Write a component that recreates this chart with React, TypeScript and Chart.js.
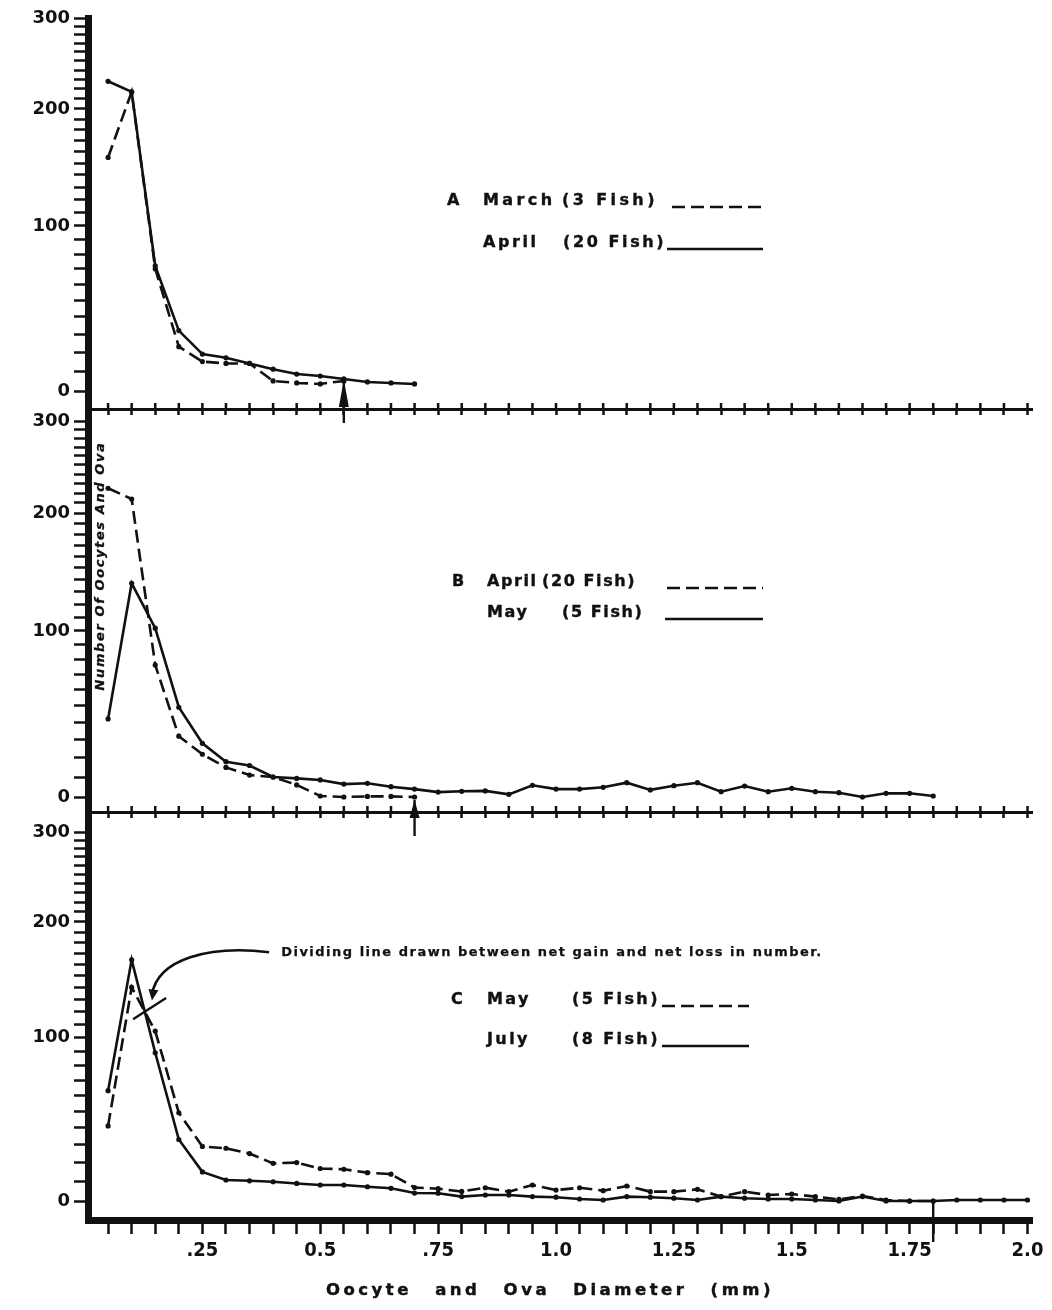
import React, { useEffect, useRef } from 'react';
import { Chart, LinearScale, registerables } from 'chart.js';

Chart.register(...registerables);

// ---------------- data ----------------
const DIAMETERS = [0.05, 0.10, 0.15, 0.20, 0.25, 0.30, 0.35, 0.40, 0.45, 0.50, 0.55, 0.60, 0.65, 0.70, 0.75, 0.80, 0.85, 0.90, 0.95, 1.00, 1.05, 1.10, 1.15, 1.20, 1.25, 1.30, 1.35, 1.40, 1.45, 1.50, 1.55, 1.60, 1.65, 1.70, 1.75, 1.80, 1.85, 1.90, 1.95, 2.00];

const MARCH_A = [155, 217, 70, 23, 15, 14, 14, 5, 4, 3.5, 5];
const APRIL_A = [228, 217, 72, 32, 19, 17, 14, 11, 8.5, 7.5, 6, 4.5, 4, 3.5];

const APRIL_B = [225, 214, 76, 32, 22, 15, 11, 10, 6, 0.5, 0, 0.3, 0.3, 0];
const MAY_B = [42, 137, 102, 49, 28, 18, 16, 10, 9.3, 8.5, 6.4, 6.8, 5.1, 3.9, 2.4, 2.8, 3, 1.3, 5.8, 3.9, 3.9, 4.8, 7.1, 3.5, 5.6, 7.1, 2.6, 5.4, 2.6, 4.3, 2.6, 2.1, 0, 1.8, 1.8, 0.5];

const MAY_C = [41, 140, 105, 49, 29, 28, 25, 19.6, 20, 16.8, 16.4, 14.6, 13.8, 6.8, 6.2, 4.8, 6.7, 4.7, 8.1, 5.5, 6.7, 5.2, 7.6, 4.7, 4.7, 5.9, 2.2, 4.7, 3, 3.5, 2.2, 0.8, 2.5, 0.5, 0, 0];
const JULY_C = [63, 164, 89, 33, 15, 10.7, 10.3, 9.8, 8.9, 8.1, 8.1, 7.2, 6.4, 4, 3.9, 2.2, 3, 3, 2.2, 1.9, 1, 0.5, 2.2, 1.9, 1.4, 0.5, 2.2, 1.4, 1, 1, 0.5, 0, 2.2, 0, 0, 0, 0.5, 0.5, 0.5, 0.5];

const Y_TICKS = [0, 10, 20, 30, 40, 50, 60, 70, 80, 90, 100, 110, 120, 130, 140, 150, 160, 170, 180, 190, 200, 210, 220, 230, 240, 250, 260, 270, 280, 290, 300];
const Y_TICK_LABELS = [0, 100, 200, 300];

const X_LABEL_VALUES = [0.25, 0.5, 0.75, 1.0, 1.25, 1.5, 1.75, 2.0];
const X_LABEL_TEXT = ['.25', '0.5', '.75', '1.0', '1.25', '1.5', '1.75', '2.0'];

const PANEL_LETTERS = ['A', 'B', 'C'];
const MONTHS_A = ['March', 'April'];
const FISH_A = ['(3 Fish)', '(20 Fish)'];
const MONTHS_B = ['April', 'May'];
const FISH_B = ['(20 Fish)', '(5 Fish)'];
const MONTHS_C = ['May', 'July'];
const FISH_C = ['(5 Fish)', '(8 Fish)'];

const DIVIDERS = [0.55, 0.70, 1.80];

const Y_TITLE = 'Number Of Oocytes And Ova';
const X_TITLE = 'Oocyte and Ova Diameter (mm)';
const NOTE_TEXT = 'Dividing line drawn between net gain and net loss in number.';
const NOTE_ANCHOR = { x: 0.417, y: 171 };
const NOTE_ARROW_TIP = { x: 0.143, y: 129 };
const DIVIDING_LINE = [{ x: 0.103, y: 114 }, { x: 0.173, y: 131 }];

// ---------------- layout ----------------
const W = 1052;
const H = 1310;
const INK = '#111111';
const X_MIN = 0.0074;
const X_MAX = 2.0095;
const AXIS_LEFT = 88;
const AXIS_RIGHT = 1032;
const LOG_OFFSET = 200;
const FONT = '"DejaVu Sans", "Open Sans", sans-serif';
const NARROW = '"Liberation Sans Narrow", "DejaVu Sans Condensed", "DejaVu Sans", sans-serif';

class PanelLogScale extends LinearScale {
  static id = 'panelLog';
  frac(value: number) {
    const top = Y_TICKS[Y_TICKS.length - 1];
    const t = (v: number) => Math.log(Math.max(v, 0) + LOG_OFFSET);
    return (t(value) - t(0)) / (t(top) - t(0));
  }
  bounds() {
    const o: any = this.options;
    const y0 = this.bottom - (o.padBottom || 0);
    const y1 = this.top + (o.padTop || 0);
    return [y0, y1];
  }
  getPixelForValue(value: any) {
    if (value === null || value === undefined || isNaN(value)) return NaN;
    const [y0, y1] = this.bounds();
    return y0 - this.frac(value) * (y0 - y1);
  }
  getValueForPixel(pixel: number) {
    const [y0, y1] = this.bounds();
    const f = (y0 - pixel) / (y0 - y1);
    const top = Y_TICKS[Y_TICKS.length - 1];
    const t0 = Math.log(LOG_OFFSET);
    const t1 = Math.log(top + LOG_OFFSET);
    return Math.exp(t0 + f * (t1 - t0)) - LOG_OFFSET;
  }
}
Chart.register(PanelLogScale as any);

type SeriesDef = { month: string; fish: string; values: number[]; dashed: boolean };
type PanelDef = {
  letter: string;
  top: number;
  bottom: number;
  padTop: number;
  padBottom: number;
  xHeight: number;
  bottomAxis: boolean;
  series: SeriesDef[];
  legend: { letterX: number; monthX: number; fishX: number[]; lineX1: number[]; lineX2: number; rowY: number[]; spacing: number[] };
  divider: number;
  arrow: { tip: number; base: number; below: number; head: boolean };
  extra?: (chart: any, ctx: CanvasRenderingContext2D) => void;
};

const DASH = [13, 6];

function heavyText(ctx: CanvasRenderingContext2D, text: string, x: number, y: number, w = 0.4) {
  ctx.lineWidth = w;
  ctx.strokeText(text, x, y);
  ctx.fillText(text, x, y);
}

function drawYTitle(chart: any, ctx: CanvasRenderingContext2D) {
  const a = chart.chartArea;
  ctx.save();
  ctx.fillStyle = INK;
  ctx.strokeStyle = INK;
  ctx.translate(a.left + 13, a.top + 157);
  ctx.rotate(-Math.PI / 2);
  ctx.font = `italic bold 13px ${FONT}`;
  (ctx as any).letterSpacing = '1.6px';
  ctx.textAlign = 'center';
  ctx.textBaseline = 'middle';
  heavyText(ctx, Y_TITLE, 0, 0, 0.3);
  ctx.restore();
}

function drawNotes(chart: any, ctx: CanvasRenderingContext2D) {
  const xs = chart.scales.x;
  const ys = chart.scales.y;
  const a = chart.chartArea;
  ctx.save();
  ctx.fillStyle = INK;
  ctx.strokeStyle = INK;
  // annotation text
  const tx = xs.getPixelForValue(NOTE_ANCHOR.x);
  const ty = ys.getPixelForValue(NOTE_ANCHOR.y);
  ctx.font = `bold 13px ${FONT}`;
  (ctx as any).letterSpacing = '1.5px';
  ctx.textAlign = 'left';
  ctx.textBaseline = 'middle';
  heavyText(ctx, NOTE_TEXT, tx, ty, 0.25);
  // curved arrow
  const sx = tx - 12;
  const sy = ty;
  const ex = xs.getPixelForValue(NOTE_ARROW_TIP.x);
  const ey = ys.getPixelForValue(NOTE_ARROW_TIP.y);
  const c1x = sx - 60, c1y = sy - 7;
  const c2x = ex + 6, c2y = ey - 42;
  ctx.lineWidth = 2.6;
  ctx.beginPath();
  ctx.moveTo(sx, sy);
  ctx.bezierCurveTo(c1x, c1y, c2x, c2y, ex, ey - 6);
  ctx.stroke();
  const ang = Math.atan2(ey - c2y, ex - c2x);
  ctx.beginPath();
  ctx.moveTo(ex, ey);
  ctx.lineTo(ex - 11 * Math.cos(ang) + 5 * Math.sin(ang), ey - 11 * Math.sin(ang) - 5 * Math.cos(ang));
  ctx.lineTo(ex - 11 * Math.cos(ang) - 5 * Math.sin(ang), ey - 11 * Math.sin(ang) + 5 * Math.cos(ang));
  ctx.closePath();
  ctx.fill();
  // dividing line
  ctx.lineWidth = 2.4;
  ctx.beginPath();
  ctx.moveTo(xs.getPixelForValue(DIVIDING_LINE[0].x), ys.getPixelForValue(DIVIDING_LINE[0].y));
  ctx.lineTo(xs.getPixelForValue(DIVIDING_LINE[1].x), ys.getPixelForValue(DIVIDING_LINE[1].y));
  ctx.stroke();
  // x-axis title
  ctx.font = `bold 16.5px ${FONT}`;
  (ctx as any).letterSpacing = '3.5px';
  (ctx as any).wordSpacing = '14px';
  ctx.textAlign = 'center';
  heavyText(ctx, X_TITLE, a.left + 462, a.bottom + 71, 0.45);
  ctx.restore();
}

const PANELS: PanelDef[] = [
  {
    letter: PANEL_LETTERS[0], top: 18, bottom: 409, padTop: 0, padBottom: 18, xHeight: 8, bottomAxis: false,
    series: [
      { month: MONTHS_A[0], fish: FISH_A[0], values: MARCH_A, dashed: true },
      { month: MONTHS_A[1], fish: FISH_A[1], values: APRIL_A, dashed: false },
    ],
    legend: { letterX: 447, monthX: 483, fishX: [562, 563], lineX1: [672, 667], lineX2: 763, rowY: [201, 243], spacing: [3.4, 2.6] },
    divider: DIVIDERS[0],
    arrow: { tip: 29, base: 2, below: 14, head: true },
  },
  {
    letter: PANEL_LETTERS[1], top: 409, bottom: 812, padTop: 12.7, padBottom: 15, xHeight: 8, bottomAxis: false,
    series: [
      { month: MONTHS_B[0], fish: FISH_B[0], values: APRIL_B, dashed: true },
      { month: MONTHS_B[1], fish: FISH_B[1], values: MAY_B, dashed: false },
    ],
    legend: { letterX: 452, monthX: 487, fishX: [542, 562], lineX1: [667, 665], lineX2: 763, rowY: [582, 613], spacing: [1.6, 1.6] },
    divider: DIVIDERS[1],
    arrow: { tip: 12, base: -6, below: 24, head: true },
    extra: drawYTitle,
  },
  {
    letter: PANEL_LETTERS[2], top: 812, bottom: 1220, padTop: 20, padBottom: 19, xHeight: 62, bottomAxis: true,
    series: [
      { month: MONTHS_C[0], fish: FISH_C[0], values: MAY_C, dashed: true },
      { month: MONTHS_C[1], fish: FISH_C[1], values: JULY_C, dashed: false },
    ],
    legend: { letterX: 451, monthX: 487, fishX: [572, 572], lineX1: [662, 662], lineX2: 749, rowY: [1000, 1040], spacing: [2.4, 2.4] },
    divider: DIVIDERS[2],
    arrow: { tip: 17, base: 17, below: 22, head: false },
    extra: drawNotes,
  },
];

function makeDecor(panel: PanelDef) {
  return {
    id: 'decor' + panel.letter,
    afterDraw(chart: any) {
      const ctx: CanvasRenderingContext2D = chart.ctx;
      const xs = chart.scales.x;
      const axisY = chart.chartArea.bottom;
      ctx.save();
      ctx.strokeStyle = INK;
      ctx.fillStyle = INK;
      // upper half of cross ticks
      if (!panel.bottomAxis) {
        ctx.lineWidth = 2.5;
        ctx.beginPath();
        xs.ticks.forEach((t: any) => {
          const px = xs.getPixelForValue(t.value);
          ctx.moveTo(px, axisY - 6);
          ctx.lineTo(px, axisY);
        });
        ctx.stroke();
      }
      // legend
      const L = panel.legend;
      ctx.font = `bold 16px ${FONT}`;
      ctx.textAlign = 'left';
      ctx.textBaseline = 'middle';
      (ctx as any).letterSpacing = `${L.spacing[0]}px`;
      heavyText(ctx, panel.letter, L.letterX, L.rowY[0]);
      panel.series.forEach((s, i) => {
        (ctx as any).letterSpacing = `${L.spacing[i]}px`;
        heavyText(ctx, s.month, L.monthX, L.rowY[i]);
        heavyText(ctx, s.fish, L.fishX[i], L.rowY[i]);
        ctx.lineWidth = 2.6;
        ctx.setLineDash(s.dashed ? DASH : []);
        ctx.beginPath();
        ctx.moveTo(L.lineX1[i], L.rowY[i] + 6);
        ctx.lineTo(L.lineX2, L.rowY[i] + 6);
        ctx.stroke();
        ctx.setLineDash([]);
      });
      // divider arrow
      const ax = xs.getPixelForValue(panel.divider);
      const A = panel.arrow;
      ctx.lineWidth = 2.4;
      ctx.beginPath();
      ctx.moveTo(ax, axisY - A.tip);
      ctx.lineTo(ax, axisY + A.below);
      ctx.stroke();
      if (A.head) {
        ctx.beginPath();
        ctx.moveTo(ax, axisY - A.tip);
        ctx.lineTo(ax - 5, axisY - A.base);
        ctx.lineTo(ax + 5, axisY - A.base);
        ctx.closePath();
        ctx.fill();
      }
      ctx.restore();
      if (panel.extra) panel.extra(chart, ctx);
    },
  };
}

function makeConfig(def: PanelDef): any {
  return {
    type: 'line',
    data: {
      datasets: def.series.map((s) => ({
        label: `${s.month} ${s.fish}`,
        data: s.values.map((v, i) => ({ x: DIAMETERS[i], y: v })),
        borderColor: INK,
        backgroundColor: INK,
        borderWidth: 2.6,
        borderDash: s.dashed ? DASH : [],
        pointRadius: 2.6,
        pointBorderWidth: 0,
        pointBackgroundColor: INK,
        tension: 0,
        fill: false,
      })),
    },
    options: {
      responsive: false,
      animation: false,
      devicePixelRatio: 1,
      events: [],
      layout: { padding: { left: 0, right: W - AXIS_RIGHT, top: def.top, bottom: H - def.bottom - def.xHeight } },
      plugins: { legend: { display: false }, tooltip: { enabled: false } },
      scales: {
        x: {
          type: 'linear',
          min: X_MIN,
          max: X_MAX,
          afterBuildTicks: (s: any) => { s.ticks = DIAMETERS.map((v) => ({ value: v })); },
          afterFit: (s: any) => { s.height = def.xHeight; },
          grid: { drawOnChartArea: false, drawTicks: true, tickLength: def.bottomAxis ? 14 : 6, tickWidth: 2.5, color: INK },
          border: { width: def.bottomAxis ? 7 : 3, color: INK },
          ticks: {
            display: def.bottomAxis,
            autoSkip: false,
            maxRotation: 0,
            minRotation: 0,
            padding: 5,
            color: INK,
            font: { family: NARROW, size: 20, weight: 'bold' },
            callback: (v: any) => {
              const i = X_LABEL_VALUES.findIndex((l) => Math.abs(l - Number(v)) < 1e-6);
              return i >= 0 ? X_LABEL_TEXT[i] : '';
            },
          },
        },
        y: {
          type: 'panelLog',
          padTop: def.padTop,
          padBottom: def.padBottom,
          min: -10,
          max: 320,
          afterBuildTicks: (s: any) => { s.ticks = Y_TICKS.map((v) => ({ value: v })); },
          afterFit: (s: any) => { s.width = AXIS_LEFT; },
          grid: { drawOnChartArea: false, drawTicks: true, tickLength: 14, tickWidth: 2.5, color: INK },
          border: { width: 7, color: INK },
          ticks: {
            autoSkip: false,
            padding: 4,
            color: INK,
            font: { family: FONT, size: 18, weight: 'bold' },
            callback: (v: any) => (Y_TICK_LABELS.includes(Number(v)) ? String(v) : ''),
          },
        },
      },
    },
    plugins: [makeDecor(def)],
  };
}

function Panel({ def }: { def: PanelDef }) {
  const ref = useRef<HTMLCanvasElement>(null);
  useEffect(() => {
    if (!ref.current) return;
    const chart = new Chart(ref.current, makeConfig(def));
    return () => chart.destroy();
  }, [def]);
  return (
    <canvas
      ref={ref}
      width={W}
      height={H}
      style={{ position: 'absolute', left: 0, top: 0, width: W, height: H }}
    />
  );
}

export default function App() {
  return (
    <div style={{ position: 'absolute', left: 0, top: 0, width: W, height: H, background: '#ffffff' }}>
      {PANELS.map((p) => (
        <Panel key={p.letter} def={p} />
      ))}
    </div>
  );
}
